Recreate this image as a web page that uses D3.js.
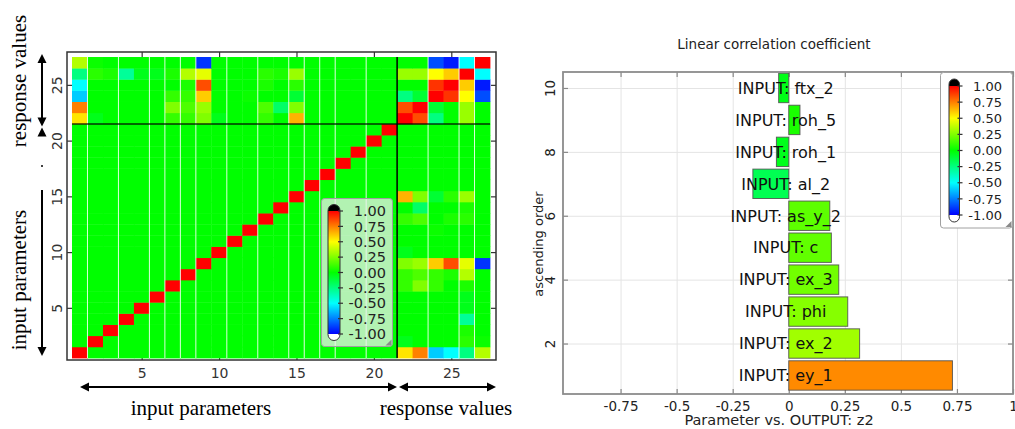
<!DOCTYPE html>
<html>
<head>
<meta charset="utf-8">
<title>Correlation matrix</title>
<script src="https://cdn.jsdelivr.net/npm/d3@7"></script>
<style>
  body { margin: 0; background: #fff; }
  svg { display: block; }
</style>
</head>
<body>
<script>
// ---- data ----
const nInputs = 21;
const nResponses = 6;

// correlation of response rows 22..27 with input columns 1..21
const respVsInput = [
  [ 0.55, -0.05, 0.00,  0.00,  0.00,  0.00, 0.10, 0.10,  0.25, -0.05, 0, 0.00, 0.10,  0.00,  0.65, 0, 0, 0, 0, 0, 0],
  [ 0.75,  0.00, 0.00,  0.00,  0.00,  0.00, 0.25, 0.15,  0.30,  0.00, 0, 0.00, 0.15, -0.20,  0.25, 0, 0, 0, 0, 0, 0],
  [-0.60,  0.00, 0.00,  0.00,  0.00,  0.00, 0.10, 0.10,  0.60,  0.00, 0, 0.02, 0.00,  0.00, -0.10, 0, 0, 0, 0, 0, 0],
  [-0.50,  0.00, 0.00,  0.00,  0.00,  0.00, 0.00, 0.05,  0.85,  0.00, 0, 0.00, 0.05,  0.00,  0.08, 0, 0, 0, 0, 0, 0],
  [-0.25,  0.08, 0.05, -0.30, -0.05, -0.05, 0.05, 0.35,  0.45,  0.00, 0, 0.00, 0.08,  0.05,  0.30, 0, 0, 0, 0, 0, 0],
  [ 0.35,  0.02, 0.00,  0.00,  0.00,  0.00, 0.00, 0.00, -0.90,  0.00, 0, 0.00, 0.00,  0.00,  0.00, 0, 0, 0, 0, 0, 0]
];

// correlation between the responses 22..27
const respVsResp = [
  [ 1.00,  0.85, -0.25,  0.00,  0.30,  0.00],
  [ 0.85,  1.00, -0.10,  0.00,  0.30,  0.00],
  [-0.25, -0.10,  1.00,  0.90,  0.50, -0.85],
  [ 0.00,  0.00,  0.90,  1.00,  0.60, -0.95],
  [ 0.30,  0.30,  0.50,  0.60,  1.00, -0.50],
  [ 0.00,  0.00, -0.85, -0.95, -0.50,  1.00]
];

const gapColumns = [1, 3, 5, 6, 7, 8, 10, 12, 14, 15, 16, 17, 19, 23, 25, 26];
const matrixTicks = [5, 10, 15, 20, 25];
const legendValues = [1, 0.75, 0.5, 0.25, 0, -0.25, -0.5, -0.75, -1];

const barNames  = ["ey_1", "ex_2", "phi", "ex_3", "c", "as_y_2", "al_2", "roh_1", "roh_5", "ftx_2"];
const barValues = [0.73, 0.316, 0.263, 0.223, 0.19, 0.183, -0.16, -0.055, 0.05, -0.045];
const barTicksX = [-0.75, -0.5, -0.25, 0, 0.25, 0.5, 0.75, 1];
const barTicksY = [2, 4, 6, 8, 10];

// ---- helpers ----
const W = 1015, H = 429;
const sans = "DejaVu Sans, Verdana, sans-serif";
const serif = "Liberation Serif, Times New Roman, serif";

function corrColor(v) {
  return d3.hsl(120 * (1 - v), 1, 0.5).formatHex();
}

// plain hyphen instead of the unicode minus
function hyph(f) {
  return d => f(d).replace("\u2212", "-");
}

function corr(i, j) {
  if (i <= nInputs && j <= nInputs) return i == j ? 1 : 0;
  if (i > nInputs && j <= nInputs) return respVsInput[i - nInputs - 1][j - 1];
  if (i <= nInputs && j > nInputs) return respVsInput[j - nInputs - 1][i - 1];
  return respVsResp[i - nInputs - 1][j - nInputs - 1];
}

const svg = d3.select("body").append("svg")
  .attr("width", W).attr("height", H)
  .attr("viewBox", "0 0 " + W + " " + H);

const defs = svg.append("defs");
const grad = defs.append("linearGradient")
  .attr("id", "corrGrad")
  .attr("x1", 0).attr("y1", 1).attr("x2", 0).attr("y2", 0);
d3.range(0, 1.0001, 0.05).forEach(t => {
  grad.append("stop").attr("offset", t).attr("stop-color", corrColor(-1 + 2 * t));
});

function arrowHead(g, x, y, dir) {
  // tip at (x,y)
  const L = 9, h = 4.5;
  let p;
  if (dir == "up") p = [[x, y], [x - h, y + L], [x + h, y + L]];
  if (dir == "down") p = [[x, y], [x - h, y - L], [x + h, y - L]];
  if (dir == "left") p = [[x, y], [x + L, y - h], [x + L, y + h]];
  if (dir == "right") p = [[x, y], [x - L, y - h], [x - L, y + h]];
  g.append("path").attr("d", "M" + p.join("L") + "Z").attr("fill", "#000");
}

function colorBar(g, box, bar, labelX, fontSize) {
  g.append("rect")
    .attr("x", box.x0).attr("y", box.y0)
    .attr("width", box.x1 - box.x0).attr("height", box.y1 - box.y0)
    .attr("rx", 3)
    .attr("fill", box.fill).attr("fill-opacity", box.opacity)
    .attr("stroke", "#a0a0a0").attr("stroke-width", 1);
  g.append("path")
    .attr("d", "M" + (box.x1 - 7) + "," + (box.y1 - 1) + "L" + (box.x1 - 1) + "," + (box.y1 - 7) + "L" + (box.x1 - 1) + "," + (box.y1 - 1) + "Z")
    .attr("fill", "#8a8a8a");

  const cy = d3.scaleLinear().domain([-1, 1]).range([bar.vBottom, bar.vTop]);
  const r = bar.w / 2;
  g.append("rect")
    .attr("x", bar.x).attr("y", cy(-1) - r).attr("width", bar.w).attr("height", bar.cap + r)
    .attr("rx", r).attr("fill", "#fff");
  g.append("rect")
    .attr("x", bar.x).attr("y", cy(1) - bar.cap).attr("width", bar.w).attr("height", bar.cap + r)
    .attr("rx", r).attr("fill", "#000");
  g.append("rect")
    .attr("x", bar.x).attr("y", cy(1)).attr("width", bar.w).attr("height", cy(-1) - cy(1))
    .attr("fill", "url(#corrGrad)");
  g.append("rect")
    .attr("x", bar.x).attr("y", cy(1) - bar.cap).attr("width", bar.w).attr("height", cy(-1) - cy(1) + 2 * bar.cap)
    .attr("rx", r).attr("fill", "none").attr("stroke", "#333").attr("stroke-width", 1);

  g.selectAll("line.cbtick").data(legendValues).join("line")
    .attr("class", "cbtick")
    .attr("x1", bar.x + bar.w - 2).attr("x2", bar.x + bar.w + 3)
    .attr("y1", d => cy(d)).attr("y2", d => cy(d))
    .attr("stroke", "#333").attr("stroke-width", 1.2);
  g.selectAll("text.cblab").data(legendValues).join("text")
    .attr("class", "cblab")
    .attr("x", labelX).attr("y", d => cy(d)).attr("dy", "0.36em")
    .attr("text-anchor", "end")
    .attr("font-family", sans).attr("font-size", fontSize).attr("fill", "#222")
    .text(hyph(d3.format(".2f")));
}

// ================= left panel: correlation matrix =================
const mFrame = { x0: 67, y0: 52, x1: 496, y1: 360 };
const xM = d3.scaleLinear().domain([0.5, 27.5]).range([72, 490]);
const yM = d3.scaleLinear().domain([0.5, 27.5]).range([358, 57]);
const nAll = nInputs + nResponses;

const left = svg.append("g");

// axes (ticks pointing inward, drawn under the cells)
const axB = left.append("g").attr("transform", "translate(0," + mFrame.y1 + ")")
  .call(d3.axisBottom(xM).tickValues(matrixTicks).tickSizeInner(-5).tickSizeOuter(0).tickPadding(8));
const axT = left.append("g").attr("transform", "translate(0," + mFrame.y0 + ")")
  .call(d3.axisTop(xM).tickValues(matrixTicks).tickSizeInner(-5).tickSizeOuter(0).tickFormat(""));
const axL = left.append("g").attr("transform", "translate(" + mFrame.x0 + ",0)")
  .call(d3.axisLeft(yM).tickValues(matrixTicks).tickSizeInner(-5).tickSizeOuter(0));
const axR = left.append("g").attr("transform", "translate(" + mFrame.x1 + ",0)")
  .call(d3.axisRight(yM).tickValues(matrixTicks).tickSizeInner(-5).tickSizeOuter(0).tickFormat(""));
[axB, axT, axL, axR].forEach(a => {
  a.select(".domain").remove();
  a.selectAll("line").attr("stroke", "#333").attr("stroke-width", 1.2);
  a.selectAll("text").attr("font-family", sans).attr("font-size", 14).attr("fill", "#333");
});
axL.selectAll("text")
  .attr("transform", "rotate(-90)")
  .attr("x", 0).attr("y", -5).attr("dy", 0)
  .attr("text-anchor", "middle");

// cells
const cells = [];
for (let i = 1; i <= nAll; i++) {
  for (let j = 1; j <= nAll; j++) cells.push({ row: i, col: j, v: corr(i, j) });
}
left.append("g").selectAll("rect").data(cells).join("rect")
  .attr("x", d => xM(d.col - 0.5))
  .attr("y", d => yM(d.row + 0.5))
  .attr("width", d => xM(d.col + 0.5) - xM(d.col - 0.5) + 0.4)
  .attr("height", d => yM(d.row - 0.5) - yM(d.row + 0.5) + 0.4)
  .attr("fill", d => corrColor(d.v));

// thin white column seams
left.append("g").selectAll("line").data(gapColumns).join("line")
  .attr("x1", d => xM(d + 0.5)).attr("x2", d => xM(d + 0.5))
  .attr("y1", yM(27.5)).attr("y2", yM(0.5))
  .attr("stroke", "#fff").attr("stroke-opacity", 0.85).attr("stroke-width", 1);

// separators inputs / responses
left.append("line")
  .attr("x1", xM(0.5)).attr("x2", xM(27.5))
  .attr("y1", yM(nInputs + 0.5)).attr("y2", yM(nInputs + 0.5))
  .attr("stroke", "#000").attr("stroke-opacity", 0.6).attr("stroke-width", 2);
left.append("line")
  .attr("x1", xM(nInputs + 0.5)).attr("x2", xM(nInputs + 0.5))
  .attr("y1", yM(27.5)).attr("y2", yM(0.5))
  .attr("stroke", "#000").attr("stroke-width", 1.5);

// frame
left.append("rect")
  .attr("x", mFrame.x0).attr("y", mFrame.y0)
  .attr("width", mFrame.x1 - mFrame.x0).attr("height", mFrame.y1 - mFrame.y0)
  .attr("fill", "none").attr("stroke", "#333").attr("stroke-width", 1.5);

// legend
colorBar(left.append("g"),
  { x0: 321.5, y0: 198.5, x1: 392.5, y1: 346.5, fill: "#eeeeee", opacity: 0.75 },
  { x: 328, w: 12, vTop: 211, vBottom: 334, cap: 6.5 },
  386, 14.5);

// arrows
const arr = left.append("g").attr("stroke", "#000").attr("stroke-width", 2);
arr.append("line").attr("x1", 42).attr("x2", 42).attr("y1", 62).attr("y2", 118);
arrowHead(left, 42, 54, "up");
arrowHead(left, 42, 126.5, "down");
arrowHead(left, 42, 127.5, "up");
arr.append("line").attr("x1", 42).attr("x2", 42).attr("y1", 190).attr("y2", 347);
left.append("circle").attr("cx", 42).attr("cy", 166).attr("r", 1).attr("fill", "#000");
arrowHead(left, 42, 356, "down");

arr.append("line").attr("x1", 88).attr("x2", 389).attr("y1", 387).attr("y2", 387);
arrowHead(left, 80, 387, "left");
arrowHead(left, 397, 387, "right");
arr.append("line").attr("x1", 407).attr("x2", 487).attr("y1", 387).attr("y2", 387);
arrowHead(left, 399, 387, "left");
arrowHead(left, 496, 387, "right");

// serif labels
const lab = left.append("g").attr("font-family", serif).attr("font-size", 21).attr("fill", "#000")
  .attr("text-anchor", "middle");
lab.append("text").attr("x", 201).attr("y", 415).text("input parameters");
lab.append("text").attr("x", 446).attr("y", 415).text("response values");
lab.append("text").attr("transform", "translate(26,81) rotate(-90)").text("response values");
lab.append("text").attr("transform", "translate(26,280) rotate(-90)").text("input parameters");

// ================= right panel: bar chart =================
const bFrame = { x0: 563, y0: 72, x1: 1013, y1: 394 };
const xB = d3.scaleLinear().domain([-1, 1]).range([564.5, 1013]);
const yB = d3.scaleLinear().domain([0.42, 10.5]).range([bFrame.y1, bFrame.y0]);
const right = svg.append("g");

// grid
right.append("g").attr("transform", "translate(0," + bFrame.y1 + ")")
  .call(d3.axisBottom(xB).tickValues(barTicksX).tickSize(-(bFrame.y1 - bFrame.y0)).tickFormat(""))
  .call(g => g.select(".domain").remove())
  .selectAll("line").attr("stroke", "#e4e4e4");
right.append("g").attr("transform", "translate(" + bFrame.x0 + ",0)")
  .call(d3.axisLeft(yB).tickValues(barTicksY).tickSize(-(bFrame.x1 - bFrame.x0)).tickFormat(""))
  .call(g => g.select(".domain").remove())
  .selectAll("line").attr("stroke", "#e4e4e4");

// ticks and labels
const bB = right.append("g").attr("transform", "translate(0," + bFrame.y1 + ")")
  .call(d3.axisBottom(xB).tickValues(barTicksX).tickSizeInner(-5).tickSizeOuter(0).tickPadding(7).tickFormat(hyph(d3.format(""))));
const bT = right.append("g").attr("transform", "translate(0," + bFrame.y0 + ")")
  .call(d3.axisTop(xB).tickValues(barTicksX).tickSizeInner(-5).tickSizeOuter(0).tickFormat(""));
const bL = right.append("g").attr("transform", "translate(" + bFrame.x0 + ",0)")
  .call(d3.axisLeft(yB).tickValues(barTicksY).tickSizeInner(-5).tickSizeOuter(0));
const bR = right.append("g").attr("transform", "translate(" + bFrame.x1 + ",0)")
  .call(d3.axisRight(yB).tickValues(barTicksY).tickSizeInner(-5).tickSizeOuter(0).tickFormat(""));
[bB, bT, bL, bR].forEach(a => {
  a.select(".domain").remove();
  a.selectAll("line").attr("stroke", "#888").attr("stroke-width", 1.2);
  a.selectAll("text").attr("font-family", sans).attr("font-size", 13.5).attr("fill", "#222");
});
bL.selectAll("text")
  .attr("transform", "rotate(-90)")
  .attr("x", 0).attr("y", -8).attr("dy", 0)
  .attr("text-anchor", "middle");

// bars
const bars = barNames.map((n, i) => ({ name: n, v: barValues[i], pos: i + 1 }));
right.append("g").selectAll("rect").data(bars).join("rect")
  .attr("x", d => xB(Math.min(0, d.v)))
  .attr("y", d => yB(d.pos + 0.46))
  .attr("width", d => Math.abs(xB(d.v) - xB(0)))
  .attr("height", d => yB(d.pos - 0.46) - yB(d.pos + 0.46))
  .attr("fill", d => corrColor(d.v))
  .attr("stroke", "#4d4d4d").attr("stroke-opacity", 0.85).attr("stroke-width", 1);

right.append("g").selectAll("text").data(bars).join("text")
  .attr("x", xB(0) - 3).attr("y", d => yB(d.pos)).attr("dy", "0.36em")
  .attr("text-anchor", "middle")
  .attr("font-family", sans).attr("font-size", 16).attr("fill", "#111")
  .text(d => "INPUT: " + d.name);

// frame
right.append("rect")
  .attr("x", bFrame.x0).attr("y", bFrame.y0)
  .attr("width", bFrame.x1 - bFrame.x0).attr("height", bFrame.y1 - bFrame.y0)
  .attr("fill", "none").attr("stroke", "#8c8c8c").attr("stroke-width", 1.8);

// legend
colorBar(right.append("g"),
  { x0: 940.5, y0: 72.5, x1: 1012.5, y1: 228, fill: "#ffffff", opacity: 1 },
  { x: 949, w: 10.5, vTop: 86, vBottom: 215, cap: 7 },
  1002, 13);

// titles
right.append("text")
  .attr("x", 774).attr("y", 49).attr("text-anchor", "middle")
  .attr("font-family", sans).attr("font-size", 13.5).attr("fill", "#222")
  .text("Linear correlation coefficient");
right.append("text")
  .attr("x", 779).attr("y", 425).attr("text-anchor", "middle")
  .attr("font-family", sans).attr("font-size", 14.5).attr("fill", "#222")
  .text("Parameter vs. OUTPUT: z2");
right.append("text")
  .attr("transform", "translate(543,244) rotate(-90)").attr("text-anchor", "middle")
  .attr("font-family", sans).attr("font-size", 13).attr("fill", "#222")
  .text("ascending order");
</script>
</body>
</html>
